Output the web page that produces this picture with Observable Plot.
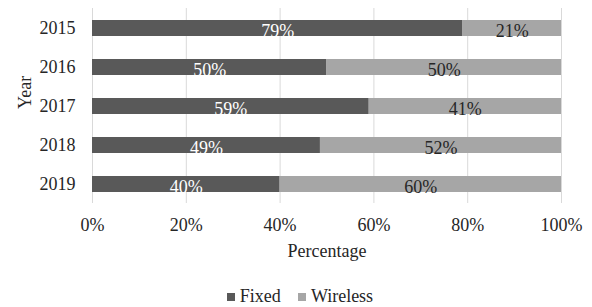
<!DOCTYPE html>
<html>
<head>
<meta charset="utf-8">
<script src="https://cdn.jsdelivr.net/npm/d3@7"></script>
<script src="https://cdn.jsdelivr.net/npm/@observablehq/plot@0.6"></script>
<style>
  html, body { margin: 0; padding: 0; background: #fff; }
  #wrap { position: relative; width: 592px; height: 307px; overflow: hidden; }
  #legend { position: absolute; top: 287px; left: 0; width: 600px; text-align: center;
    font-family: 'Liberation Serif', 'Times New Roman', serif; font-size: 18px; line-height: 18px; color: #262626; white-space: nowrap; }
  .sw { display: inline-block; width: 8px; height: 8px; margin-right: 5px; vertical-align: 1px; }
  .gap { display: inline-block; width: 17px; }
</style>
</head>
<body>
<div id="wrap"><div id="chart"></div><div id="legend"></div></div>
<script>
const years = ["2015", "2016", "2017", "2018", "2019"];
const types = ["Fixed", "Wireless"];
const fixed = [79, 50, 59, 48.6, 40];
const wireless = [21, 50, 41, 51.4, 60];
const fixedLabels = ["79%", "50%", "59%", "49%", "40%"];
const wirelessLabels = ["21%", "50%", "41%", "52%", "60%"];
const xTicks = [0, 20, 40, 60, 80, 100];
const colors = ["#595959", "#a6a6a6"];

const data = years.flatMap((y, i) => [
  {year: y, type: "Fixed", value: fixed[i], label: fixedLabels[i]},
  {year: y, type: "Wireless", value: wireless[i], label: wirelessLabels[i]}
]);

const chart = Plot.plot({
  width: 592,
  height: 282,
  marginLeft: 92,
  marginRight: 31,
  marginTop: 8,
  marginBottom: 79,
  style: {fontFamily: "'Liberation Serif', 'Times New Roman', serif", fontSize: "18px", color: "#262626", background: "white"},
  x: {domain: [0, 100]},
  y: {domain: years, paddingInner: 0.6, paddingOuter: 0.3},
  color: {domain: types, range: colors},
  marks: [
    Plot.gridX(xTicks, {stroke: "#d9d9d9", strokeOpacity: 1}),
    Plot.barX(data, Plot.stackX({x: "value", y: "year", fill: "type", order: null})),
    Plot.text(data, Plot.stackX({x: "value", y: "year", z: "type", order: null,
      text: d => d.type === "Fixed" ? d.label : "", fill: "white", dy: 3, fontSize: 18})),
    Plot.text(data, Plot.stackX({x: "value", y: "year", z: "type", order: null,
      text: d => d.type === "Wireless" ? d.label : "", fill: "#262626", dy: 3, fontSize: 18})),
    Plot.axisX(xTicks, {tickFormat: d => d + "%", tickSize: 0, tickPadding: 15, label: null, fontSize: 18}),
    Plot.axisY({tickSize: 0, tickPadding: 17, label: null, fontSize: 18}),
    Plot.text(["Percentage"], {frameAnchor: "bottom", dy: 53, fontSize: 18, fill: "#262626"}),
    Plot.text(["Year"], {frameAnchor: "left", rotate: -90, dx: -67, dy: 3, fontSize: 18, fill: "#262626"})
  ]
});
document.getElementById("chart").appendChild(chart);

const legend = document.getElementById("legend");
legend.innerHTML = types.map((t, i) =>
  `<span class="sw" style="background:${colors[i]}"></span>${t}`).join('<span class="gap"></span>');
</script>
</body>
</html>
